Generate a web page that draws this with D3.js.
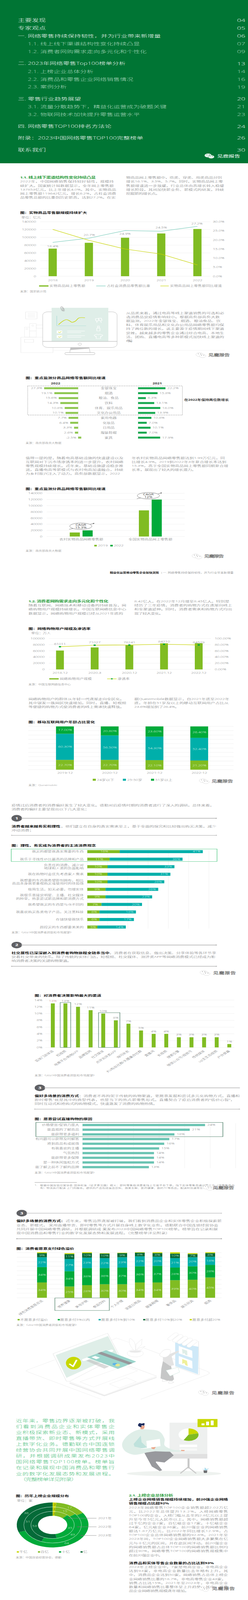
<!DOCTYPE html>
<html lang="zh"><head><meta charset="utf-8">
<script src="https://cdn.jsdelivr.net/npm/d3@7"></script>
<style>
html,body{margin:0;padding:0;background:#fff;overflow:hidden}
svg{display:block}
svg text{font-family:"Open Sans","Noto Sans CJK SC",sans-serif}
</style></head><body>
<script>
/* ---------- chart data ---------- */
const salesYears=['2018','2019','2020','2021','2022'];
const salesValues=[71000,86000,99000,110000,121500];
const shareValues=[18.4,20.7,24.9,24.5,27.2];
const growthValues=[25.8,19.8,15.0,12.2,6.2];
const salesLegend=['实物商品网上零售额','占社会消费品零售额比重','实物商品网上零售额同比增速'];

const goodsCats=['金银珠宝','烟酒','粮油、食品','饮料','体育、娱乐用品','文化办公用品','家用电器','化妆品','日用品','服装鞋帽','家具'];
const goods2022=[27.3,19.1,15.6,14.3,10.8,10.1,7.7,6.4,3.3,2.6,-2.5];
const goods2021=[22.2,15.8,6.3,13.1,18.0,13.9,10.8,7.0,10.1,7.0,17.9];

const ruralCats=['农村实物商品网络零售额','全国实物商品网上零售额'];
const rural2019=[13000,84800];
const rural2022=[19900,119800];
const cagrLabels=['15.3%','12%'];

const userDates=['2018.12','2020.3','2020.12','2021.12','2022.12'];
const userValues=[61011,71027,78241,84210,84529];
const userPenetration=[73.3,78.2,78.9,81.3,78.9];

const ageDates=['2019-12','2020-12','2021-12','2022-12'];
const ageNames=['24岁以下','25-50岁','51岁以上'];
const ageUnder24=[22.7,22.7,22.1,21.2];
const age25to50=[60.3,56.5,54.3,52.4];
const age51plus=[17.0,20.8,23.6,26.4];

const attitudeCats=[['我买的都是我真实需要的东西'],['我乐于寻找性价比最高的品牌和产品'],['负责任的消费，减少对','地球和人类的负面影响'],['我在购物时会优先考虑家人需求'],['我想要的东西我希望即刻拥有，相比','商品本身我更重视购买或使用时的体验感'],['极简生活，如无必要，勿增实体'],['我很乐意接受明星、主播、社交媒体','的种草，热衷尝试新品牌和新消费方式'],['我希望我买的东西是与众不同的'],['我喜欢购买各类电子产品，关注黑科技'],['存钱快使我快乐'],['颜控买的东西都要美美的']];
const attitudeFirst=[16,11,10,10,10,9,9,7,6,6,5];
const attitudeSecond=[41,36,33,31,28,26,23,20,18,17,14];

const channelCats=['实体门店体验','短视频','电商平台/购物APP','品牌官网','社交媒体','点评测评类APP','询问亲友','大V粉丝社群/头腰集合社群','直播间','长视频','搜索引擎','微信公众号/视频号','传统媒体','up主生态视频','户外屏幕'];
const channelValues=[13,13,12,11,10,8,7,5,4,4,3,3,3,3,1];

const liveCats=['价格便宜/促销力度大','能直观的了解商品','能获得更多福利','有问题可以获得及时解答','抢到商品有成就感','有我喜欢的主播','气氛热烈','能获得更多保障','是一种休闲放松方式','能了解之前不了解的品牌'];
const liveValues=[24,21,18,17,16,15,14,14,14,13];

const premiumCats=['绿色消费意愿总览','营养健康','美妆护肤','食品饮料','个人护理','家庭日用品','服装鞋帽','奢侈品','娱乐玩具','烟酒'];
const premiumNames=['不愿意多付溢价','愿意多付5%以内','愿意多付5%到10%','愿意多付10%到20%','愿意多付超20%'];
const premiumNone=[34,25,28,30,30,34,34,39,40,45];
const premium5=[34,34,38,36,37,36,37,28,30,28];
const premium10=[22,27,23,22,23,22,20,21,20,18];
const premium20=[9,11,10,10,9,8,8,10,7,8];
const premiumOver=[2,2,2,1,1,1,2,3,2,2];

const scaleNames=['千亿','百亿','十亿','亿'];
const scale2021=[2,10,35,53];
const scale2022=[2,15,49,51];
const scale2023=[2,17,64,36];
const scaleYears=['2021年','2022年','2023年'];

/* ---------- texts ---------- */
const tocMain=[['主要发现','04'],['专家观点','05'],['一. 网络零售持续保持韧性，并为行业带来新增量','06'],['1.1. 线上线下渠道结构性变化持续凸显','07'],['1.2. 消费者网购需求走向多元化和个性化','09'],['二. 2023年网络零售Top100榜单分析','13'],['2.1. 上榜企业总体分析','14'],['2.2. 消费品和零售企业网络销售情况','16'],['2.3. 案例分析','19'],['三. 零售行业趋势展望','20'],['3.1. 流量分散趋势下，精益化运营成为破题关键','21'],['3.2. 物联网技术加快提升零售运营水平','23'],['四. 网络零售TOP100排名方法论','24'],['附录：2023中国网络零售TOP100完整榜单','26'],['联系我们','30']];
const tocY=[82.9,114.3,146.4,178.6,210.7,258.9,291,323.2,354.6,402.9,435,466.8,515,562,611];
const tocSub=[3,4,6,7,8,10,11];

const C='#6e6f72', K='#111', G='#2e9e3f';
const W=634,H=6524;
/* the drawing keeps its 634×6524 design space and fits the height of the window it is given */
const svg=d3.select('body').append('svg').attr('width',W).attr('height',Math.min(H,window.innerHeight||H)).attr('viewBox',`0 0 ${W} ${H}`).attr('preserveAspectRatio','none');
const root=svg;

/* ---------- helpers ---------- */
function T(x,cy,s,o={}){
  const size=o.size||11.4, by=cy+size*.36;
  const t=root.append('text').attr('x',x).attr('y',by).text(s)
    .attr('font-size',size).attr('fill',o.fill||C).attr('text-anchor',o.anchor||'start')
    .attr('font-weight',o.weight||'300');
  if(o.len){t.attr('textLength',o.len).attr('lengthAdjust','spacing');}
  if(o.rot)t.attr('transform',`rotate(${o.rot},${x},${by})`);
  if(o.stroke)t.attr('stroke',o.stroke).attr('stroke-width',o.sw||.4);
  return t;
}
function para(lines,x,ys,ends,o={}){lines.forEach((s,i)=>{
  const e=Array.isArray(ends)?ends[i]:ends;T(x,ys[i],s,{...o,len:e?e-x:null});});}
function title(x,y,s,end){T(x,y,s,{fill:K,weight:'700',size:11.4,len:end?end-x:null});}
function source(x,y,s,end){T(x,y,s,{size:8.4,fill:'#7a7a7a',len:end?end-x:null});}
function hline(x0,x1,y,c='#ececec',w=1){root.append('line').attr('x1',x0).attr('x2',x1).attr('y1',y).attr('y2',y).attr('stroke',c).attr('stroke-width',w);}
function rect(x,y,w,h,f,o={}){return root.append('rect').attr('x',x).attr('y',y).attr('width',w).attr('height',h).attr('fill',f).attr('stroke',o.stroke||'none').attr('stroke-width',o.sw||1).attr('rx',o.r||0).attr('stroke-dasharray',o.dash||null);}
function styleAxis(g,size,fill){g.select('.domain').remove();g.selectAll('.tick line').remove();g.selectAll('text').attr('font-size',size).attr('fill',fill).attr('font-weight',300);}
function yLeft(scale,x,ticks,fmt,size=10.6){root.append('g').attr('transform',`translate(${x},0)`).call(d3.axisLeft(scale).tickValues(ticks).tickFormat(fmt).tickSize(0).tickPadding(0)).call(styleAxis,size,C);}
function yRight(scale,x,ticks,fmt,size=10.6){root.append('g').attr('transform',`translate(${x},0)`).call(d3.axisRight(scale).tickValues(ticks).tickFormat(fmt).tickSize(0).tickPadding(0)).call(styleAxis,size,C);}
function xBottom(scale,y,size=10.6){root.append('g').attr('transform',`translate(0,${y})`).call(d3.axisBottom(scale).tickSize(0).tickPadding(0)).call(styleAxis,size,C).selectAll('text').attr('dy','.35em');}
function grid(scale,ticks,x0,x1,c='#ececec',w=1){root.append('g').selectAll('line').data(ticks).join('line').attr('x1',x0).attr('x2',x1).attr('y1',d=>scale(d)).attr('y2',d=>scale(d)).attr('stroke',c).attr('stroke-width',w);}
function legendRow(y,items,size=10){items.forEach(it=>{
  if(it.kind==='line'){hline(it.sx,it.sx2,y,it.color,1.8);if(it.dot)root.append('circle').attr('cx',(it.sx+it.sx2)/2).attr('cy',y).attr('r',2.4).attr('fill',it.dot);}
  else if(it.kind==='bar'){rect(it.sx,y-2.5,it.sx2-it.sx,5,it.color);}
  else{const s=it.s||6.5;rect(it.sx,y-s/2,s,s,it.color);}
  T(it.tx,y,it.text,{size,len:it.tend?it.tend-it.tx:null});});}
function wechat(x,cy,white){
  const f=white?'#e9f3ee':'#fff',st=white?'none':'#777',d=white?null:'1.2 1.8';
  const g=root.append('g');
  g.append('ellipse').attr('cx',x+9).attr('cy',cy-2).attr('rx',9).attr('ry',8).attr('fill',f).attr('stroke',st).attr('stroke-width',.7).attr('stroke-dasharray',d);
  g.append('ellipse').attr('cx',x+17).attr('cy',cy+3.5).attr('rx',8).attr('ry',7).attr('fill',f).attr('stroke',white?'#007534':st).attr('stroke-width',.7).attr('stroke-dasharray',d);
  g.selectAll('circle').data([[x+6,cy-5],[x+12,cy-5],[x+14,cy+1],[x+20,cy+1]]).join('circle').attr('cx',p=>p[0]).attr('cy',p=>p[1]).attr('r',1).attr('fill',white?'#007534':'#666');
}
function watermark(ix,tx,tend,cy){wechat(ix,cy,false);T(tx,cy,'见鹿报告',{size:14,fill:'#fff',stroke:'#3a3a3a',sw:.55,weight:'400',len:tend-tx});}
function numberBadge(cx,cy,n){root.append('circle').attr('cx',cx).attr('cy',cy).attr('r',13.4).attr('fill','#5f6064');T(cx,cy,n,{anchor:'middle',fill:'#fff',weight:'700',size:14});}
function ruler(x0,x1,y,c='#777',w=1){hline(x0,x1,y,c,w);[x0,x1].forEach(x=>root.append('circle').attr('cx',x).attr('cy',y).attr('r',1.3).attr('fill','#fff').attr('stroke',c).attr('stroke-width',.8));}
function deco(mx,my){
  const M=p=>[p[0]*mx,my[0]+p[1]*my[1]];
  return (pts,o={})=>{const l=d3.line().x(p=>M(p)[0]).y(p=>M(p)[1]).curve(o.curve||d3.curveLinear);
    return root.append('path').attr('d',l(pts)+(o.close?'Z':'')).attr('fill',o.fill||'none').attr('stroke',o.stroke||'none').attr('stroke-width',o.sw||1).attr('stroke-linecap',o.cap||'butt').attr('stroke-linejoin','round').attr('opacity',o.op==null?1:o.op);};
}

/* ---------- TOC ---------- */
rect(0,0,W,665.7,'#007534');
tocMain.forEach((r,i)=>{
  const sub=tocSub.includes(i), x=sub?71:45.7, f=sub?'#a9d8bd':'#f2f8f4';
  const s=i<2||i===14?17.9:17; T(x,tocY[i],r[0],{size:s,fill:f});
  T(627,tocY[i],r[1],{size:18.5,fill:sub?'#a9d8bd':'#f2f8f4',anchor:'end'});
});
wechat(523,636,true);
T(555,636.5,'见鹿报告',{size:15,fill:'#fff',weight:'400',len:59});

/* ---------- section 1.1 ---------- */
T(51.4,724,'1.1. 线上线下渠道结构性变化持续凸显',{fill:G,weight:'700',size:12,len:193.3});
para(['2022年，中国网络销售保持较好韧性，规模持','续扩大。国家统计局数据显示，全年网上零售额','137853亿元，比上年增长4.0%。其中，实物商品','网上零售额119642亿元，增长6.2%，占社会消费','品零售总额的比重创历史新高，达到27.2%。在实'],51.4,[739.8,757,772.5,788.7,804.9],[291,291,297,297,296]);
para(['物商品网上零售额中，吃类、穿类、用类商品分别','增长16.1%、3.5%、5.7%。同时，实物商品网上零','售额增速进一步放缓，行业总体由高增长转入稳健','增长阶段，其间加快新业务、新模式的研发，持续','挖掘新的增长点。'],322.3,[724,739.8,757,772.5,788.7],[567.5,570,573,573,409]);

/* chart 1 */
title(51.4,866.9,'图：实物商品零售额规模持续扩大',222.5);
T(54.6,887,'单位：亿元',{size:10});
const y1=d3.scaleLinear([0,140000],[1126.2,904.4]), y1r=d3.scaleLinear([0,30],[1126.2,904.4]);
const x1=d3.scalePoint(salesYears,[134.7,504.7]);
grid(y1,d3.range(0,140001,20000),102.7,537.9,'#ececec',1.2);
yLeft(y1,92.2,d3.range(0,140001,20000),d=>d);
yRight(y1r,544.3,d3.range(0,31,5),d=>d.toFixed(1)+'%');
root.append('g').selectAll('rect').data(salesValues).join('rect').attr('x',(d,i)=>x1(salesYears[i])-10.5).attr('width',21).attr('y',d=>y1(d)).attr('height',d=>y1(0)-y1(d)).attr('fill','#80bc22');
const l1=d3.line().x((d,i)=>x1(salesYears[i]));
root.append('path').attr('d',l1.y(d=>y1r(d)-2)(shareValues)).attr('fill','none').attr('stroke','#6cc6b4').attr('stroke-width',1.6);
root.append('path').attr('d',l1.y(d=>y1r(d))(growthValues)).attr('fill','none').attr('stroke','#c8d400').attr('stroke-width',1.8);
const shareDy=[15,-15,12,-17,-13];
shareValues.forEach((v,i)=>T(x1(salesYears[i])+(i===4?-1:i===1?1:0),y1r(v)+shareDy[i],v+'%',{anchor:'middle',size:10.4}));
xBottom(x1,1143);
legendRow(1166,[{kind:'bar',sx:99.9,sx2:124,color:'#80bc22',tx:126.6,tend:218,text:salesLegend[0]},{kind:'line',sx:246,sx2:270,color:'#6cc6b4',tx:273,tend:384,text:salesLegend[1]},{kind:'line',sx:410,sx2:431.5,color:'#c8d400',tx:434.7,tend:567,text:salesLegend[2]}]);
source(51.4,1188.9,'来源：国家统计局',118.5);

/* illustration – monitor */
{const d=deco(.4044,[1100,.3444]);const line='#e9e9e9';
 const box=(x0,y0,x1_,y1_,o)=>d([[x0,y0],[x1_,y0],[x1_,y1_],[x0,y1_]],{close:true,...o});
 box(132,798,335,982,{stroke:line,sw:1.2,fill:'#fff'});box(155,823,212,860,{stroke:line,sw:1.2});
 box(155,680,187,798,{stroke:line});box(187,636,229,798,{stroke:line});d([[187,724],[229,724]],{stroke:line});box(229,654,272,692,{stroke:line});
 box(162,498,234,582,{stroke:line,sw:1.2});[517,533,547,561].forEach(y=>d([[175,y],[222,y]],{stroke:line}));
 [[170,700],[207,661]].forEach(p=>root.append('circle').attr('cx',p[0]*.4044).attr('cy',1100+p[1]*.3444).attr('r',2.8).attr('fill','none').attr('stroke',line));
 hline(135.5,575,1428.6,'#ededed',1.4);
 rect(109.2,1271.5,190.1,145.3,'#fff',{stroke:'#b4b4b4',r:13});
 rect(131.8,1255,145.2,137,'#dfeee8');
 hline(109.2,299.3,1392,'#9a9a9a',1);
 root.append('circle').attr('cx',204).attr('cy',1403.4).attr('r',4.4).attr('fill','none').attr('stroke','#b4b4b4');
 d([[447,920],[563,920],[570,982],[441,982]],{close:true,fill:'#fff',stroke:'#aaa'});
 d([[447,920],[561,920],[563,932],[445,950]],{close:true,fill:'#c4c4c4'});
 rect(165.8,1437.5,76.8,8.5,'#fff',{stroke:'#aaa',r:3.5});
 d([[359,545],[359,663],[544,663]],{stroke:'#b5e0d8',sw:1.6});
 d([[370,650],[400,605],[420,590],[440,605],[455,622],[475,610],[500,570],[537,568]],{stroke:'#c8d400',sw:1.8,curve:d3.curveCatmullRom});
 [720,775].forEach(y=>{rect(145,1100+y*.3444,14,11,'#fff');d([[368,y+15],[376,y+25],[388,y+10]],{stroke:'#dfe67a',sw:2});
   d([[425,y+5],[537,y+5]],{stroke:'#fff',sw:1.6});d([[425,y+23],[513,y+23]],{stroke:'#fff',sw:1.6});});
 const w={stroke:'#fff',sw:1.4};
 d([[603,580],[625,575],[621,605],[606,605]],{close:true,...w});d([[613,605],[612,628]],w);
 d([[622,575],[640,572],[645,600],[630,605]],{close:true,...w});d([[637,604],[640,628]],w);
 box(612,690,632,724,w);box(617,665,627,690,w);
 d([[595,775],[612,762],[622,770],[632,762],[650,775],[640,792],[636,785],[636,815],[608,815],[608,785],[604,792]],{close:true,...w});
 root.append('ellipse').attr('cx',159).attr('cy',1259).attr('rx',2.8).attr('ry',9).attr('transform','rotate(-12,159,1259)').attr('fill','none').attr('stroke','#a8a8a8').attr('stroke-width',1.2);
 root.append('ellipse').attr('cx',162).attr('cy',1262).attr('rx',2.4).attr('ry',7).attr('transform','rotate(-12,162,1262)').attr('fill','none').attr('stroke','#a8a8a8').attr('stroke-width',1);
}
para(['从品类来看，通过电商等线上渠道销售的可选和必','选消费品受疫情影响较小。根据商务部商务大数','据监测，2022年金银珠宝、烟酒、粮油食品、饮','料、体育娱乐用品和文化办公用品网络零售额均保','持了两位数的增长。这主要源于疫情期间线下渠道','受挫，越来越多的零售企业通过综合电商、本地生','活、团购、直播电商等多种新模式加快线上渠道的','布局。'],322.3,[1276,1291.8,1307.7,1324.9,1340.7,1357.3,1373.1,1389.3],[573,562,564,573,573,573,573,344]);
watermark(501,532.6,587.6,1447.8);

/* chart 2 */
title(65.5,1540.8,'图：重点监测分商品网络零售额同比增速',269.8);
T(142,1563.2,'2022',{anchor:'middle',weight:'700',fill:'#333',size:10.5});
T(402,1564.3,'2021',{anchor:'middle',weight:'700',fill:'#333',size:10.5});
const y2=d3.scalePoint(goodsCats,[1583,1784.3]);
const xL=d3.scaleLinear([0,27.3],[199.8,112.8]), xR=d3.scaleLinear([0,22.2],[353,423]);
rect(70.8,1573.6,395.5,118.7,'none',{stroke:'#555',dash:'2 2.4'});
[199.8,353].forEach(x=>root.append('line').attr('x1',x).attr('x2',x).attr('y1',1575).attr('y2',1790).attr('stroke','#e6e6e6'));
root.append('g').selectAll('rect').data(goods2022).join('rect').attr('x',d=>Math.min(xL(d),xL(0))).attr('width',d=>Math.abs(xL(d)-xL(0))).attr('y',(d,i)=>y2(goodsCats[i])-4).attr('height',8).attr('fill','#8fc751');
root.append('g').selectAll('rect').data(goods2021).join('rect').attr('x',xR(0)).attr('width',d=>xR(d)-xR(0)).attr('y',(d,i)=>y2(goodsCats[i])-4).attr('height',8).attr('fill','#17a84f');
goodsCats.forEach((c,i)=>{const y=y2(c);
  T(277.8,y,c,{anchor:'middle',size:10.2});
  T(Math.min(xL(goods2022[i]),xL(0))-5,y,goods2022[i].toFixed(1)+'%',{anchor:'end',size:10.4});
  T(xR(goods2021[i])+5,y,goods2021[i].toFixed(1)+'%',{size:10.4});});
T(471,1630.7,'在2022年保持两位数增长',{weight:'700',fill:'#333',size:10,len:114});
source(65.5,1806.7,'来源：商务部商务大数据',157);

para(['值得一提的是，随着电商基础设施的快速建设以及','互联网对下沉市场渗透率的进一步提升，农村网络','零售规模持续增长。近年来，基础设施建设稳步推','进，直播电商等新模式与农村电商加速融合，持续','为乡村振兴注入了动力。商务部数据显示，2022'],65.5,[1867,1882.8,1899,1914.8,1930.7],[315.4,315.4,315.4,315.4,307]);
para(['年农村实物商品网络零售额达到1.99万亿元，同','比增长4.9%。2019到2022年3年复合增长率达到','15.3%，高于全国实物商品网上零售额同期复合增','长率，展现出了较大的增长潜力。'],336.5,[1867,1882.8,1899,1914.8],[574.7,578.7,583.6,501.5]);

/* chart 3 */
title(65.5,1993,'图：重点监测分商品网络零售额同比增速',269.8);
const y3=d3.scaleLinear([0,140000],[2187.6,2011.6]);
grid(y3,d3.range(0,140001,20000),119.3,472.3,'#ececec',1.2);
yLeft(y3,108.4,d3.range(0,140001,20000),d=>d);
const x3=d3.scalePoint(ruralCats,[207.5,384.2]);
root.append('g').selectAll('rect').data(rural2019).join('rect').attr('x',(d,i)=>x3(ruralCats[i])-29.2).attr('width',25.9).attr('y',d=>y3(d)).attr('height',d=>y3(0)-y3(d)).attr('fill','#80bc22');
root.append('g').selectAll('rect').data(rural2022).join('rect').attr('x',(d,i)=>x3(ruralCats[i])+3.5).attr('width',25.9).attr('y',d=>y3(d)).attr('height',d=>y3(0)-y3(d)).attr('fill','#00aa3a');
xBottom(x3,2200,10.2);
legendRow(2224.8,[{sx:241,color:'#80bc22',tx:250.7,text:'2019'},{sx:281.9,color:'#00aa3a',tx:291.2,text:'2022'}],10.8);
function cagr(cx,cy,label,tail,head){
  root.append('ellipse').attr('cx',cx).attr('cy',cy).attr('rx',28.3).attr('ry',13).attr('fill','#fff').attr('stroke','#444').attr('stroke-width',.8);
  root.append('line').attr('x1',tail[0][0]).attr('y1',tail[0][1]).attr('x2',tail[1][0]).attr('y2',tail[1][1]).attr('stroke','#444').attr('stroke-width',.8);
  root.append('line').attr('x1',head[0][0]).attr('y1',head[0][1]).attr('x2',head[1][0]).attr('y2',head[1][1]).attr('stroke','#444').attr('stroke-width',.8);
  const [a,b]=head[1],ang=Math.atan2(head[1][1]-head[0][1],head[1][0]-head[0][0]);
  root.append('path').attr('d',d3.line()([[a,b],[a-4*Math.cos(ang-.5),b-4*Math.sin(ang-.5)],[a-4*Math.cos(ang+.5),b-4*Math.sin(ang+.5)]])+'Z').attr('fill','#333');
  T(cx,cy-4.8,'CAGR',{anchor:'middle',size:10.5,fill:'#444',weight:'400'});
  T(cx,cy+5.2,label,{anchor:'middle',size:10.5,fill:'#444',weight:'400'});
}
cagr(206.6,2145.6,cagrLabels[0],[[176.7,2158.3],[187,2155]],[[230.5,2137.7],[241.4,2133.5]]);
cagr(379.3,2021.2,cagrLabels[1],[[349.8,2033.6],[360,2030]],[[404.4,2013.7],[414,2009.2]]);
source(65.5,2246.5,'来源：商务部商务大数据',157);
watermark(491,521.7,572.6,2268.5);

T(281,2335.7,'精益化运营推动零售企业加快突围',{fill:K,weight:'700',size:8.4,len:125});
T(411,2335.7,'|',{size:8.4,fill:'#555'});
T(416.5,2335.7,'一. 网络零售持续保持韧性，并为行业带来新增量',{size:8.4,len:180.5});

/* section 1.2 */
T(72.8,2451.4,'1.2. 消费者网购需求走向多元化和个性化',{fill:G,weight:'700',size:12,len:204.2});
para(['随着互联网、网络技术和移动设备的持续普及，网','络购物用户规模持续增长。中国互联网络信息中心','数据显示，网络购物用户规模已经从2021年底的'],72.8,[2467.6,2484.5,2501],[322.7,322.7,314.6]);
para(['8.42亿人，在2022年12月增至8.45亿人。特别是','经历了三年疫情，消费者的购物方式在逐渐向线上','和全渠道延伸。同时，消费者需求和购物方式均出','现了较大变化。'],343.3,[2451.4,2467.6,2484.5,2501],[586.4,593.3,593.3,417.7]);

/* chart 4 */
title(72.8,2563,'图：网络购物用户规模及渗透率',231.7);
T(79.7,2581,'单位：万人',{size:10});
const y4=d3.scaleLinear([0,100000],[2729.6,2603.3]), y4r=d3.scaleLinear([0,100],[2729.6,2603.3]);
const x4=d3.scalePoint(userDates,[153.3,508]);
grid(y4,d3.range(0,100001,20000),125,539,'#ececec',1.2);
yLeft(y4,114.4,d3.range(0,100001,20000),d=>d);
yRight(y4r,549,d3.range(0,101,20),d=>d.toFixed(2)+'%');
root.append('g').selectAll('rect').data(userValues).join('rect').attr('x',(d,i)=>x4(userDates[i])-10).attr('width',20).attr('y',d=>y4(d)).attr('height',d=>y4(0)-y4(d)).attr('fill','#80bc22');
root.append('path').attr('d',d3.line().x((d,i)=>x4(userDates[i])).y(d=>y4r(d))(userPenetration)).attr('fill','none').attr('stroke','#c8d400').attr('stroke-width',1.8);
root.append('g').selectAll('circle').data(userPenetration).join('circle').attr('cx',(d,i)=>x4(userDates[i])).attr('cy',d=>y4r(d)).attr('r',3).attr('fill','#00aa3a');
userValues.forEach((v,i)=>T(x4(userDates[i]),y4r(userPenetration[i])-11,v,{anchor:'middle',size:10.6}));
xBottom(x4,2744);
legendRow(2768,[{kind:'bar',sx:126,sx2:150,color:'#80bc22',tx:153,tend:234.6,text:'网络购物用户规模'},{kind:'line',sx:273.8,sx2:298,color:'#c8d400',dot:'#00aa3a',tx:300.9,tend:331.5,text:'渗透率'}]);
source(72.8,2790.6,'来源：中国互联网络信息中心',181);

para(['网络购物用户的群体从年轻一代逐渐走向全民化。','其中银发一族网民快速增加。同时，直播、短视频','等便捷的购物方式使消费者的线上需求快速释放。'],72.8,[2849.5,2866,2882.6],[318,322.7,318]);
para(['据Questmobile数据显示，自2021年底至2022年','底，年龄在51岁及以上的移动互联网用户占比从','23.6%增加到了26.4%。'],343.3,[2849.5,2866,2882.6],[586.4,584.4,458.2]);

/* chart 5 */
title(72.8,2943.9,'图：移动互联网用户年龄占比变化',242.6);
const y5=d3.scaleLinear([0,100],[3138.4,2962]);
grid(y5,d3.range(0,101,10),72.4,597,'#ececec',1.2);
const x5=d3.scalePoint(ageDates,[166,509.3]);
const ageStack=d3.stack().keys([0,1,2]).value((d,k)=>d[k])(ageDates.map((_,i)=>[ageUnder24[i],age25to50[i],age51plus[i]]));
const ageColors=['#80bc22','#00afaa','#00aa3a'];
ageStack.forEach((s,k)=>{
  root.append('g').selectAll('rect').data(s).join('rect').attr('x',(d,i)=>x5(ageDates[i])-22.8).attr('width',45.6).attr('y',d=>y5(d[1])).attr('height',d=>y5(d[0])-y5(d[1])).attr('fill',ageColors[k]);
  s.forEach((d,i)=>T(x5(ageDates[i])+.5,y5((d[0]+d[1])/2)+(k===0?2:0),(d[1]-d[0]).toFixed(2)+'%',{anchor:'middle',fill:'#e9f6ea',size:10.6}));
});
xBottom(x5,3152);
legendRow(3179.4,[{sx:237,s:8,color:ageColors[0],tx:248,text:ageNames[0]},{sx:314,s:8,color:ageColors[1],tx:325.5,text:ageNames[1]},{sx:386,s:8,color:ageColors[2],tx:397,text:ageNames[2]}],10.6);
watermark(509.5,541,595.7,3185);
source(72.8,3202,'来源：Questmobile');

/* consumer text */
para(['疫情过后消费者的消费偏好发生了较大变化。德勤对后疫情时期的消费者进行了深入的调研。总体来看，','消费者的偏好主要呈现出以下几大变化：'],29.5,[3283.8,3300],[548,228.5]);
numberBadge(42.7,3336.5,'1');
ruler(55,552.8,3336.5,'#6a6a6a',1);
T(29.5,3368.8,'消费者越来越务实和理性',{fill:K,weight:'700',len:125});
T(155.7,3368.8,'，他们建立在自身的真实需求至上，基于全面的探究和比较做出购买决策，减少',{len:397.1});
T(29.5,3385,'冲动消费；');
ruler(30,553,3406,'#8d8d8d',1.2);

/* chart 6 */
title(29.5,3447,'图：理性、务实成为消费者的主流消费观念',245.5);
const x6=d3.scaleLinear([0,60],[223.2,534]);
const y6=d3.scalePoint(attitudeCats.map((_,i)=>i),[3472.5,3780]);
root.append('g').selectAll('line').data(d3.range(0,61,10)).join('line').attr('x1',d=>x6(d)).attr('x2',d=>x6(d)).attr('y1',3465).attr('y2',3786).attr('stroke','#ececec');
root.append('g').selectAll('rect').data(attitudeFirst).join('rect').attr('x',x6(0)).attr('width',d=>x6(d)-x6(0)).attr('y',(d,i)=>y6(i)-6.2).attr('height',12.4).attr('fill','#80bc22');
root.append('g').selectAll('rect').data(attitudeSecond).join('rect').attr('x',(d,i)=>x6(attitudeFirst[i])).attr('width',d=>x6(d)-x6(0)).attr('y',(d,i)=>y6(i)-6.2).attr('height',12.4).attr('fill','#00afaa');
attitudeCats.forEach((c,i)=>{
  const y=y6(i);
  if(c.length===1)T(214,y,c[0],{anchor:'end',size:10.2});
  else{T(214,y-6.5,c[0],{anchor:'end',size:10.2});T(214,y+6.7,c[1],{anchor:'end',size:10.2});}
  T((x6(0)+x6(attitudeFirst[i]))/2+2,y,attitudeFirst[i]+'%',{anchor:'middle',fill:'#eef7e2',size:10.2});
  T(x6(attitudeFirst[i]+attitudeSecond[i])-6,y,attitudeSecond[i]+'%',{anchor:'end',fill:'#e4f6f5',size:10.2});
});
rect(28.7,3461.8,526.1,51,'none',{stroke:'#2fbe6c',sw:1.1});
source(29.5,3802.8,'来源：《2023中国消费者洞察和市场展望》',186.8);

numberBadge(42.7,3853.4,'2');
ruler(55,552.8,3853.4,'#6a6a6a',1);
T(29.5,3885.8,'社交属性已深深嵌入到消费者购物旅程全链条当中',{fill:K,weight:'700',len:250.3});
T(280,3885.8,'，消费者在获取信息、做出决策、分享体验等各环节享',{len:272.8});
para(['受着社交带来的快乐。除了传统的实体门店，短视频、社交媒体、测评类APP等网络消费模式已经成为影','响消费者决策的关键购物渠道。'],29.5,[3902,3917.8],[551,183]);
ruler(30,553,3940,'#7d7d7d',1);
watermark(511.6,544.7,603,3967);

/* chart 7 */
title(88.6,4058.6,'图：对消费者决策影响最大的渠道',258.8);
const y7=d3.scaleLinear([0,14],[4270.8,4077.6]);
grid(y7,d3.range(0,15,2),116,599,'#ececec',1.2);
yLeft(y7,108.4,d3.range(0,15,2),d=>d+'%');
const x7=d3.scalePoint(channelCats,[135,586.2]);
root.append('g').selectAll('rect').data(channelValues).join('rect').attr('x',(d,i)=>x7(channelCats[i])-5).attr('width',10).attr('y',d=>y7(d)).attr('height',d=>y7(0)-y7(d)).attr('fill','#80bc22');
channelCats.forEach((c,i)=>{
  T(x7(c),y7(channelValues[i])-10.3,channelValues[i]+'%',{anchor:'middle',size:10.2,fill:i===0?'#c0787a':C});
  T(x7(c)+3,4283,c,{anchor:'end',rot:-45,size:10.5});
});
[[x7(channelCats[1])-13.3,180.8],[x7(channelCats[4])-12,306.5]].forEach((b,i)=>{
  const top=y7(channelValues[i===0?1:4])-(i===0?3.4:4);
  rect(b[0],top,b[1]-b[0],y7(0)-top,'none',{stroke:'#1d5c3e',sw:1});});
source(88.6,4384.4,'来源：《2023中国消费者洞察和市场展望》',245.9);

numberBadge(102,4435.7,'3');
ruler(115,611.8,4435.7,'#a5a5a7',1.8);
T(88.6,4467.8,'偏好多场景的消费方式',{fill:K,weight:'700',len:113.2});
T(202,4467.8,'：消费者不再拘泥于传统的购物渠道，更愿意发掘和尝试多元化购物方式，直播和',{len:411});
para(['即时零售¹就是其中的典型代表，也是当下的热点新零售形式。直播契合了疫后消费者的“低价心智”，','同时互动式和抢购式的购物模式，快速激发了消费的购物热情。'],88.6,[4484,4500.8],[600.5,402.4]);
ruler(89,612,4522.5,'#8a8a8a',1);

/* chart 8 */
title(88.6,4562.8,'图：愿意尝试直播购物的原因',235.8);
const x8=d3.scaleLinear([0,30],[211,602.5]);
const y8=d3.scalePoint(liveCats,[4587.3,4759]);
root.append('g').selectAll('line').data(d3.range(0,31,5)).join('line').attr('x1',d=>x8(d)).attr('x2',d=>x8(d)).attr('y1',4580).attr('y2',4763).attr('stroke','#ececec');
root.append('g').selectAll('rect').data(liveValues).join('rect').attr('x',x8(0)).attr('width',d=>x8(d)-x8(0)).attr('y',(d,i)=>y8(liveCats[i])-4.6).attr('height',9.2).attr('fill','#6bc4b3');
liveCats.forEach((c,i)=>{T(202.2,y8(c),c,{anchor:'end',size:10.2});T(x8(liveValues[i])+6,y8(c),liveValues[i]+'%',{size:10.4});});
rect(91.8,4576.6,478,58.2,'none',{stroke:'#1d5c3e',sw:1.1});
source(88.6,4781.5,'来源：《2023中国消费者洞察和市场展望》',245.9);
hline(88.6,196.5,4821.5,'#888',1);
T(88.6,4832.5,'1.',{size:8.2});
T(102.3,4832.5,'根据中国连锁经营协会 团体标准（征求意见稿）释义：即时零售指消费者线上交易平台下单，线下实体零售商通过第三方（或零售商自',{size:8,len:497.4});
T(102.3,4844.5,'有）物流执行配送 上门的服务，提供的产品包括食品饮料、蔬果生鲜、医药健康、数码3C等商品，配送时效通常在30-60分钟',{size:8,len:455});
watermark(519.6,544,598.5,4842.8);

/* ---------- green premium section ---------- */
numberBadge(55.6,4946.8,'3');
ruler(69,566,4946.8,'#a5a5a7',1.6);
T(42,4978.8,'偏好多场景的消费方式：',{fill:K,weight:'700',len:125});
T(167.8,4978.8,'近年来，零售边界逐渐被打破，我们看到消费品企业和实体零售企业积极探索新',{len:398.8});
para(['业态、新模式， 采用直播带货、即时零售等方式开展自身线上数字化业务。德勤联合中国连锁经营协会','共同开展中国网络零售调研，并根据调研成 果发布2023中国网络零售TOP100榜单。榜单旨在记录和展','现中国消费品和零售行业的数字化发展态势和发展进程。（完整榜单详见附录）'],42,[4995,5011.6,5027.7],[558,556.9,434.7]);
ruler(43,566,5051,'#6f6f6f',1);

/* chart 9 */
title(42,5090.8,'图：消费者愿意支付绿色溢价',189.7);
const y9=d3.scaleLinear([0,100],[5291.6,5108]);
grid(y9,d3.range(0,101,10),42.9,566.6,'#ececec',1.2);
const x9raw=d3.scaleLinear([1,9],[177.5,537.4]);
const x9=i=>x9raw(i===0?-0.56:i);
const premiumSeries=[premiumNone,premium5,premium10,premium20,premiumOver];
const premiumColors=['#80bc22','#00aa3a','#00afaa','#046a38','#c8d800'];
const premiumStack=d3.stack().keys([0,1,2,3,4]).value((d,k)=>d[k])(premiumCats.map((_,i)=>premiumSeries.map(s=>s[i])));
premiumStack.forEach((s,k)=>{
  root.append('g').selectAll('rect').data(s).join('rect').attr('x',(d,i)=>x9(i)-12.5).attr('width',25).attr('y',d=>y9(d[1])).attr('height',d=>y9(d[0])-y9(d[1])).attr('fill',premiumColors[k]);
  if(k<4)s.forEach((d,i)=>T(x9(i),y9((d[0]+d[1])/2),(d[1]-d[0])+'%',{anchor:'middle',fill:'#e9f6ea',size:10.4}));
});
premiumCats.forEach((c,i)=>T(x9(i)+3.5,5301,c,{anchor:'end',rot:-45,size:10.5}));
rect(140.3,5292.6,139.1,51,'none',{stroke:'#1d5c3e',sw:1});
legendRow(5381,[{sx:44.9,s:5.5,color:premiumColors[0],tx:51.8,text:premiumNames[0],tend:122.5},{sx:147.6,s:5.5,color:premiumColors[1],tx:154,text:premiumNames[1],tend:229.5},{sx:252,s:5.5,color:premiumColors[2],tx:258.8,text:premiumNames[2],tend:344.8},{sx:366,s:5.5,color:premiumColors[3],tx:372,text:premiumNames[3],tend:465.5},{sx:484.9,s:5.5,color:premiumColors[4],tx:491.7,text:premiumNames[4],tend:563}]);
source(42,5403.5,'来源：《2023中国消费者洞察和市场展望》',199.8);

/* illustration – laptop */
{const d=deco(.4044,[5420,.357]);const l='#ececec';
 d([[640,800],[180,490],[165,475],[180,460],[345,350]],{stroke:l,sw:1.2});
 d([[700,130],[735,100],[815,150]],{stroke:l,sw:1.2});
 d([[910,215],[1310,480],[1325,500],[1310,520],[890,800]],{stroke:l,sw:1.2});
 d([[440,600],[660,750],[990,535],[810,415]],{stroke:'#e4e4e4',sw:1.2});
 d([[440,615],[660,760],[990,550]],{stroke:'#e4e4e4',sw:2.5});
 d([[505,600],[590,660],[870,475],[790,420]],{stroke:l,close:true,sw:1,fill:'#fff'});
 d([[692,625],[755,672],[862,600],[800,555]],{stroke:l,close:true,sw:1});
 d([[335,280],[680,45],[755,300],[440,595],[420,595]],{close:true,stroke:'#e6e6e6',sw:1.2,fill:'#fff'});
 d([[352,295],[683,78],[745,290],[420,555]],{close:true,fill:'#dfeee8'});
 root.append('ellipse').attr('cx',465*.4044).attr('cy',5420+387*.357).attr('rx',19.5).attr('ry',25.5).attr('fill','#c8d800');
 d([[438,395],[462,425],[485,350]],{stroke:'#fff',sw:4.5});
 d([[530,350],[705,245]],{stroke:'#fff',sw:9,cap:'round'});
 d([[545,360],[565,345],[690,425],[660,450]],{close:true,fill:'#bcbcbc',op:.55});
 d([[555,320],[670,243],[857,370],[745,450]],{close:true,fill:'#9cd5cc',stroke:'#9cd5cc',sw:2});
 d([[615,275],[640,258],[838,385],[815,403]],{close:true,fill:'#97989c'});
 d([[578,320],[602,305],[632,325],[608,342]],{close:true,fill:'#fff'});
 root.append('ellipse').attr('cx',726*.4044).attr('cy',5420+398*.357).attr('rx',6).attr('ry',5).attr('fill','#5cb3e8');
 root.append('ellipse').attr('cx',744*.4044).attr('cy',5420+409*.357).attr('rx',6).attr('ry',5).attr('fill','#e6e88f');
 root.append('ellipse').attr('cx',855*.4044).attr('cy',5420+275*.357).attr('rx',20.5).attr('ry',15).attr('fill','#fff').attr('stroke','#e8e8e8');
 root.append('ellipse').attr('cx',855*.4044).attr('cy',5420+255*.357).attr('rx',15).attr('ry',4.5).attr('fill','#e9e9e9');
 d([[852,245],[820,170],[822,105],[850,150]],{close:true,stroke:'#e6e6e6',fill:'#fff',curve:d3.curveCatmullRomClosed});
 d([[858,240],[860,170],[898,112],[895,175]],{close:true,stroke:'#e6e6e6',fill:'#fff'});
 d([[860,250],[880,215],[918,195],[890,235]],{close:true,stroke:'#e6e6e6',fill:'#fff'});
 d([[1107,150],[1255,200],[1252,515],[1108,420]],{close:true,fill:'#cfe9f8'});
 d([[1255,135],[1260,520],[1245,520],[1108,425]],{stroke:'#e6e6e6',sw:1.2});
 d3.range(5).forEach(i=>{const a=[1075+i*30,110+i*20],b=[1112+i*30,58+i*20];
   d([a,b],{stroke:'#e6e6e6',sw:13,cap:'round'});d([a,b],{stroke:'#fff',sw:11.4,cap:'round'});});
 [[190,245,330,275],[305,362,450,395]].forEach(r=>d([[1130,r[0]],[1215,r[1]],[1217,r[2]],[1130,r[3]]],{close:true,fill:'#fff'}));
 d([[1150,225],[1183,245],[1185,300],[1170,290],[1165,270],[1155,285]],{close:true,fill:'#dfeee8'});
 d([[1152,340],[1182,360],[1187,420],[1172,410],[1165,385],[1152,395]],{close:true,fill:'#f0f09a'});
 d([[1030,365],[1075,370],[1100,570],[1090,590],[1045,585],[1015,560],[1020,450]],{close:true,fill:'#c6c7c7'});
 d([[1030,300],[1065,290],[1125,245],[1133,255],[1085,310],[1100,410],[1075,420],[1030,365]],{close:true,fill:'#e3e3e3'});
 d([[1010,300],[1040,235],[1075,235],[1075,280],[1045,320]],{close:true,fill:'#fff',stroke:'#e0e0e0',curve:d3.curveCatmullRomClosed});
 d([[1025,595],[1030,570],[1060,590],[1040,595]],{close:true,fill:'#fff',stroke:'#ddd'});
 d([[1065,615],[1070,590],[1100,605],[1085,618]],{close:true,fill:'#fff',stroke:'#ddd'});
 d([[1050,470],[1125,435],[1135,490],[1075,535]],{close:true,fill:'#fff',stroke:'#cfe8de'});
}
watermark(507.5,541,599.3,5678.8);

/* ---------- big green text + person ---------- */
{const lines=['近年来，零售边界逐渐被打破，我','们看到消费品企业和实体零售企','业积极探索新业态、新模式，采用','直播带货、即时零售等方式开展线','上数字化业务。德勤联合中国连锁','经营协会共同开展中国网络零售调','研，并根据调研成果发布2023中','国网络零售TOP100榜单。榜单旨','在记录和展现中国消费品和零售行','业的数字化发展态势和发展进程。'];
 const ys=[5793,5817.4,5841.3,5865.2,5889.1,5913,5936.6,5960.9,5985.2,6009.5];
 para(lines,40.4,ys,293.2,{size:16,fill:'#4cc07c'});
 T(50.5,6033,'（完整榜单详见附录）',{size:16,fill:'#4cc07c',len:147.5,weight:'300'});
}
{const d=deco(.4044,[5420,.357]);
 rect(433.5,5801,96.5,146,'#eef0ef');rect(433.5,5928.7,96.5,18.3,'#e0e0e0');
 rect(505,5786,51,32.8,'#c8d800');
 [[1274,1075],[1303,1055],[1332,1042]].forEach(b=>rect(b[0]*.4044,5420+b[1]*.357,7.5,(1097-b[1])*.357,'#fff'));
 const pieCx=482,pieCy=5850,arc=d3.arc().innerRadius(0).outerRadius(25.5);
 root.append('circle').attr('cx',pieCx).attr('cy',pieCy).attr('r',25.5).attr('fill','#fff');
 root.append('path').attr('transform',`translate(${pieCx},${pieCy})`).attr('d',arc({startAngle:0,endAngle:1.35})).attr('fill','#c8d800');
 root.append('path').attr('transform',`translate(${pieCx},${pieCy})`).attr('d',arc({startAngle:1.35,endAngle:3.66})).attr('fill','#80bc22');
 rect(459,5890.5,45,10,'#fff');rect(459,5906,45,9,'#f7f8f7');
 rect(479.5,5947,5,40,'#c8c8c8');
 root.append('ellipse').attr('cx',444.8).attr('cy',6008.5).attr('rx',120.5).attr('ry',10.6).attr('fill','#eef2ef');
 d([[912,1410],[1060,1372],[1098,1440],[1040,1522],[985,1510],[985,1470],[1000,1440],[985,1520],[1025,1610],[1010,1620],[960,1568]],{close:true,fill:'#98999d'});
 d([[870,1150],[935,1145],[1005,1165],[1040,1250],[1042,1330],[1100,1378],[1145,1385],[1145,1395],[1050,1398],[960,1395],[900,1420],[845,1433],[790,1390],[772,1310],[810,1210]],{close:true,fill:'#dfeee8',curve:d3.curveCatmullRomClosed});
 d([[890,1215],[895,1290],[930,1350],[900,1360],[850,1340],[845,1310]],{close:true,fill:'#bfe2dc'});
 d([[925,1275],[1010,1252],[1015,1335],[930,1360]],{close:true,fill:'#fff'});
 d([[890,1362],[955,1345],[955,1355],[892,1367]],{close:true,fill:'#fff'});
 d([[955,1350],[985,1345],[975,1370],[960,1365]],{close:true,fill:'#eba68a'});
 d([[1145,1378],[1168,1380],[1165,1392],[1145,1390]],{close:true,fill:'#eba68a'});
 d([[888,1105],[915,1100],[912,1130],[905,1142],[888,1142]],{close:true,fill:'#eba68a'});
 d([[873,1090],[882,1072],[895,1078],[912,1072],[910,1100],[895,1098],[893,1118],[875,1105]],{close:true,fill:'#1c2b5c',curve:d3.curveCatmullRomClosed});
 const e=deco(.4044,[5980,.347]);
 e([[1140,80],[1190,5],[1240,80]],{stroke:'#c8c8c8',sw:3.2});
 e([[1286,45],[1311,45],[1308,75],[1289,75]],{close:true,fill:'#6c6d70'});
 e([[1298,45],[1275,25],[1293,35],[1295,8],[1305,30],[1322,20],[1305,45]],{close:true,fill:'#a9d9ea'});
}

/* ---------- donut ---------- */
title(40.4,6098.7,'图：历年上榜企业规模分布',176.3);
T(43.3,6119,'单位：家',{size:10});
const donutColors=['#c8d800','#80bc22','#00aa3a','#046a38'];
const cx=134.5,cy=6218;
const rings=[{v:scale2021,r:[37.4,55.4]},{v:scale2022,r:[55.4,73.6]},{v:scale2023,r:[73.6,91.7]}];
const pie=d3.pie().sort(null).value(d=>d);
const dg=root.append('g').attr('transform',`translate(${cx},${cy})`);
rings.forEach(rg=>{
  const arc=d3.arc().innerRadius(rg.r[0]).outerRadius(rg.r[1]);
  dg.append('g').selectAll('path').data(pie(rg.v)).join('path').attr('d',arc).attr('fill',(d,i)=>donutColors[i]);
  pie(rg.v).forEach((a,i)=>{ if(rg.v===scale2021&&i===1)return;
    const c=arc.centroid(a);
    T(cx+c[0]+(i===0?1:0),cy+c[1],a.data,{anchor:'middle',size:10.4,fill:i===0?'#222':'#dcefd8'});});
});
[55.4,73.6].forEach(r=>dg.append('circle').attr('r',r).attr('fill','none').attr('stroke','#fff').attr('stroke-width',.8));
[[173.9,6190.6],[197,6225.7],[207,6261]].forEach((a,i)=>{
  hline(a[0],246.7,a[1],'#8a8a8a',1);
  root.append('path').attr('d',d3.line()([[a[0]-1.5,a[1]],[a[0]+4,a[1]-2.4],[a[0]+4,a[1]+2.4]])+'Z').attr('fill','#666');
  T(251,a[1],scaleYears[i],{size:10.6});
});
legendRow(6328,[{sx:42.9,s:5.5,color:donutColors[0],tx:49.3,text:scaleNames[0]},{sx:97,s:5.5,color:donutColors[1],tx:103.5,text:scaleNames[1]},{sx:150.8,s:5.5,color:donutColors[2],tx:157.7,text:scaleNames[2]},{sx:205.8,s:5.5,color:donutColors[3],tx:212.7,text:scaleNames[3]}],10.4);
source(40.4,6350,'来源：中国连锁经营协会，德勤',157);

/* section 2.1 */
T(329.6,6098,'2.1. 上榜企业总体分析',{fill:G,weight:'700',size:12,len:113.2});
T(329.6,6114,'上榜企业网络销售规模持续增加，前20强企业网络',{fill:K,weight:'700',len:253.4});
T(329.6,6130.3,'销售规模占比超92%',{fill:K,weight:'700',len:102.5});
para(['2023年网络零售TOP100企业销售额超2.02万亿','元，比2022年总体提升13.2%。入榜网络零售','TOP100的企业，入榜门槛从去年的2.8亿元以上提','升至今年5亿元人民币以上。其中，网络销售额超','过千亿的企业2家，百亿级企业17家，十亿级企业','64家，亿元级企业36家。前20强企业的网络销售','额达1.87万亿元，比2022年同比增长12.9%，占','TOP100企业总体网络销售额的92.6%。2021年至','2023年间，TOP100企业网络销售额大多聚集在亿','元与十亿元的区间，并在此区间浮动。前20强企业','的网络销售额占总体TOP100的网络销售额比例均','超过90%，网络零售TOP100的网络销售规模集中','在前20强企业中。'],329.6,[6146.6,6162.9,6178.8,6194.8,6211.4,6227.4,6243.4,6259.3,6275.3,6292.6,6308.6,6324.6,6340.9],[583,583,583,583,583,583,583,583,583,583,583,583,416.5]);
T(329.6,6373.5,'消费品和实体零售企业数量的占比达到93%',{fill:K,weight:'700',len:217.2});
para(['2023年上榜企业中，7家是电商企业，非电商企业','达到93家，非电商企业数量比去年略有上升。其','中，消费品企业达到50家，网络销售占总体上榜企','业网络销售比重的18.7%，非电商零售企业43家，','销售占比达15%。2021年至2023年，非电商企业','数量和网络销售比重整体呈上升趋势。其中，消费','品企业网络销售规模逐年增加。'],329.6,[6389.5,6405.8,6421.7,6438.7,6454.7,6470.6,6487],[583,583,583,578,583,583,483.3]);
watermark(508.7,542,600.5,6478);
</script>
</body></html>
